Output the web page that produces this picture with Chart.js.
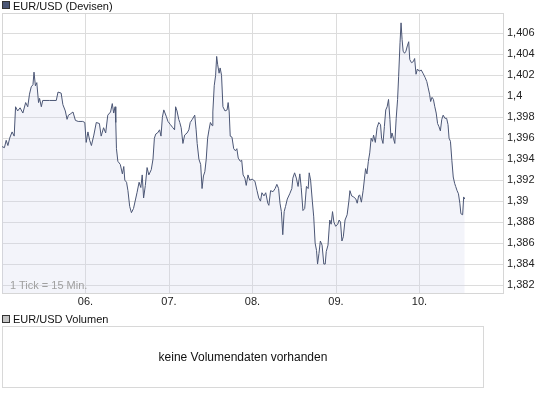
<!DOCTYPE html>
<html>
<head>
<meta charset="utf-8">
<script src="https://cdn.jsdelivr.net/npm/chart.js@4"></script>
<style>
  body { margin: 0; background: #fff; font-family: "Liberation Sans", Arial, sans-serif; }
  #wrap { position: relative; width: 545px; height: 395px; }
  #kurs { position: absolute; left: 0; top: 0; }
  .leg { position: absolute; left: 13px; font-size: 11px; color: #111; line-height: 12px; }
  .sq { position: absolute; left: 2px; width: 6px; height: 6px; border: 1px solid #333; }
  #tick { position: absolute; left: 10px; top: 279px; font-size: 11px; color: #a0a0a0; }
  #volbox { position: absolute; left: 2px; top: 326px; width: 480px; height: 60px; border: 1px solid #d8d8d8;
            font-size: 12px; color: #111; text-align: center; line-height: 60px; }
</style>
</head>
<body>
<div id="wrap">
  <canvas id="kurs" width="545" height="315"></canvas>
  <div class="sq" style="top:1px;background:#4b5675;"></div>
  <div class="leg" style="top:0px;">EUR/USD (Devisen)</div>
  <div id="tick">1 Tick = 15 Min.</div>
  <div class="sq" style="top:315px;background:#c4c4c4;"></div>
  <div class="leg" style="top:313px;">EUR/USD Volumen</div>
  <div id="volbox">keine Volumendaten vorhanden</div>
</div>
<script>
// hours since 05. 00:00
var stunden = [
  0, 0.7, 1.2, 1.7, 2.2, 2.9, 3.5, 3.9, 4.5, 5.2, 6.0, 6.8, 7.4, 7.9, 8.4, 8.9, 9.2, 9.6, 10.0, 10.5,
  10.8, 11.3, 11.7, 13.7, 15.6, 16.1, 17.0, 17.5, 18.2, 18.7, 19.1, 19.6, 20.4, 21.1, 21.9, 23.2, 23.8, 24.2, 24.7, 25.2,
  25.7, 26.4, 27.1, 28.0, 28.5, 29.2, 29.8, 30.4, 31.2, 31.7, 32.1, 32.5, 32.7, 32.9, 33.3, 34.0, 34.6, 35.0, 35.3, 35.8,
  36.2, 36.7, 37.2, 37.8, 38.4, 38.8, 39.4, 39.9, 40.3, 40.7, 41.2, 41.7, 42.2, 42.9, 43.4, 43.8, 44.2, 44.7, 45.3, 45.7,
  46.1, 46.5, 47.2, 47.7, 48.4, 49.1, 49.6, 49.9, 50.3, 50.8,
  51.1, 51.5, 52.0, 52.5, 53.2, 53.7, 54.1, 54.7, 55.4, 55.8, 56.1, 56.6, 57.1, 57.5, 57.9, 58.3, 58.7, 59.1, 59.5, 59.9,
  60.4, 60.6, 61.0, 61.4, 61.7, 62.0, 62.4, 62.7, 63.1, 63.5, 64.1, 64.7, 65.0, 65.3, 65.6, 66.1, 66.6, 67.1, 67.5, 67.9,
  68.5, 68.9, 69.3, 69.8, 70.2, 70.7, 71.2, 71.9, 72.7, 73.3, 73.8, 74.3, 74.7, 75.3, 75.8, 76.4, 76.7, 77.2, 77.9, 78.5,
  79.0, 79.5, 79.9, 80.3, 80.7, 81.1, 81.5, 82.0, 82.7, 83.3, 83.6, 84.1, 84.6, 85.1, 85.6, 86.0, 86.5, 87.0, 87.5, 88.0,
  88.3, 88.7, 89.2, 89.6, 90.0, 90.4, 90.7, 91.1, 91.5, 92.0, 92.5, 92.9, 93.2, 93.7, 94.2, 94.6, 95.0, 95.4, 95.9, 96.5,
  96.9, 97.3, 97.7, 98.1, 98.6, 99.2, 99.7, 100.0, 100.5, 101.1, 101.7, 102.1, 102.5,
  102.8, 103.3, 103.8, 104.2, 104.5, 104.9, 105.3, 105.7, 106.1, 106.5, 106.8, 107.3, 107.8, 108.3, 108.8, 109.1, 109.5, 109.9,
  110.3, 110.7, 111.1, 111.5, 111.8, 112.1, 112.5, 112.9, 113.3, 113.7, 114.0, 114.4, 114.7, 115.0, 115.3, 115.7, 116.1, 116.5,
  116.9, 117.2, 117.7, 118.2, 118.6, 119.0, 119.4, 119.9, 120.5, 121.0, 121.6, 122.1, 122.5, 122.9, 123.2, 123.6, 124.0, 124.4,
  124.8, 125.2, 125.6, 126.0, 126.4, 126.8, 127.3, 127.8, 128.2, 128.5, 128.9, 129.3, 129.7, 130.1, 130.4, 130.8, 131.2, 131.6,
  131.9, 132.4, 132.7, 133.0
];
var kurse = [
  1.3952, 1.3951, 1.3958, 1.3953, 1.3960, 1.3966, 1.3962, 1.3990, 1.3986, 1.3989, 1.3984, 1.3994, 1.3990, 1.4002, 1.4009, 1.4011, 1.4023, 1.4010, 1.4013, 1.3994,
  1.3998, 1.3990, 1.3996, 1.3996, 1.3996, 1.4004, 1.4003, 1.3992, 1.3986, 1.3978, 1.3982, 1.3983, 1.3985, 1.3977, 1.3976, 1.3976, 1.3975, 1.3956, 1.3966, 1.3958,
  1.3953, 1.3963, 1.3975, 1.3974, 1.3962, 1.3970, 1.3965, 1.3982, 1.3985, 1.3993, 1.3984, 1.3990, 1.3975, 1.3950, 1.3938, 1.3935, 1.3926, 1.3933, 1.3920, 1.3918,
  1.3910, 1.3895, 1.3889, 1.3893, 1.3902, 1.3908, 1.3918, 1.3913, 1.3925, 1.3903, 1.3915, 1.3932, 1.3925, 1.3930, 1.3940, 1.3960, 1.3964, 1.3965, 1.3968, 1.3962,
  1.3980, 1.3987, 1.3981, 1.3976, 1.3973, 1.3970, 1.3968, 1.3990, 1.3986, 1.3978,
  1.3975, 1.3970, 1.3955, 1.3963, 1.3965, 1.3968, 1.3975, 1.3978, 1.3982, 1.3968, 1.3955, 1.3940, 1.3935, 1.3912, 1.3924, 1.3928, 1.3940, 1.3960, 1.3968, 1.3975,
  1.3972, 1.3985, 1.4010, 1.4020, 1.4038, 1.4030, 1.4022, 1.4027, 1.4020, 1.3990, 1.3986, 1.3987, 1.3994, 1.3985, 1.3962, 1.3961, 1.3950, 1.3948, 1.3950, 1.3941,
  1.3938, 1.3939, 1.3925, 1.3922, 1.3915, 1.3925, 1.3920, 1.3921, 1.3919, 1.3910, 1.3903, 1.3900, 1.3908, 1.3905, 1.3908, 1.3898, 1.3896, 1.3910, 1.3909, 1.3912,
  1.3916, 1.3912, 1.3898, 1.3890, 1.3868, 1.3890, 1.3895, 1.3902, 1.3907, 1.3912, 1.3922, 1.3927, 1.3922, 1.3914, 1.3926, 1.3913, 1.3891, 1.3893, 1.3914, 1.3912,
  1.3927, 1.3920, 1.3900, 1.3885, 1.3860, 1.3853, 1.3840, 1.3850, 1.3862, 1.3858, 1.3840, 1.3840, 1.3852, 1.3858, 1.3882, 1.3878, 1.3890, 1.3880, 1.3876, 1.3878,
  1.3882, 1.3880, 1.3862, 1.3866, 1.3882, 1.3887, 1.3900, 1.3910, 1.3905, 1.3904, 1.3902, 1.3898, 1.3905,
  1.3906, 1.3899, 1.3910, 1.3922, 1.3931, 1.3926, 1.3938, 1.3946, 1.3960, 1.3957, 1.3963, 1.3956, 1.3970, 1.3975, 1.3973, 1.3960, 1.3955, 1.3971,
  1.3987, 1.3990, 1.3997, 1.3978, 1.3960, 1.3965, 1.3960, 1.3955, 1.3979, 1.3997, 1.4019, 1.4051, 1.4070, 1.4054, 1.4043, 1.4041, 1.4043, 1.4048,
  1.4052, 1.4035, 1.4032, 1.4033, 1.4036, 1.4021, 1.4026, 1.4024, 1.4025, 1.4022, 1.4018, 1.4014, 1.4008, 1.4002, 1.3995, 1.3999, 1.3997, 1.3990,
  1.3984, 1.3974, 1.3971, 1.3967, 1.3978, 1.3982, 1.3979, 1.3979, 1.3973, 1.3960, 1.3957, 1.3939, 1.3923, 1.3917, 1.3914, 1.3910, 1.3907, 1.3898,
  1.3888, 1.3887, 1.3904, 1.3902
];
var tagStunden = [24, 48, 72, 96, 120];
var tagLabels = ['06.', '07.', '08.', '09.', '10.'];
var yTicks = [1.382, 1.384, 1.386, 1.388, 1.39, 1.392, 1.394, 1.396, 1.398, 1.4, 1.402, 1.404, 1.406];

var punkte = stunden.map((h, i) => ({ x: h, y: kurse[i] }));

// frame round the plot area
const rahmen = {
  id: 'rahmen',
  beforeDatasetsDraw(chart) {
    const a = chart.chartArea;
    const ctx = chart.ctx;
    ctx.save();
    ctx.strokeStyle = '#d6d6d6';
    ctx.lineWidth = 1;
    ctx.strokeRect(Math.round(a.left) + 0.5, Math.round(a.top) + 0.5,
      Math.round(a.right - a.left), Math.round(a.bottom - a.top));
    ctx.restore();
  }
};

const canvas = document.getElementById('kurs');

let kursChart = new Chart(canvas, {
  type: 'line',
  data: {
    datasets: [{
      label: 'EUR/USD (Devisen)',
      data: punkte,
      borderColor: '#4b5675',
      borderWidth: 1,
      backgroundColor: 'rgba(207,211,235,0.25)',
      fill: 'start',
      pointRadius: 0,
      tension: 0
    }]
  },
  options: {
    responsive: false,
    animation: false,
    layout: { padding: { left: 2, top: 13, right: 0, bottom: 0 } },
    plugins: { legend: { display: false }, tooltip: { enabled: false } },
    scales: {
      x: {
        type: 'linear',
        min: 0,
        max: 144,
        afterFit: s => { s.height = 22; },
        afterBuildTicks: s => { s.ticks = tagStunden.map(v => ({ value: v })); },
        grid: { color: '#dcdcdc', drawTicks: false },
        border: { display: false },
        ticks: {
          padding: 2,
          color: '#222',
          font: { family: '"Liberation Sans", Arial, sans-serif', size: 11 },
          callback: v => tagLabels[tagStunden.indexOf(v)]
        }
      },
      y: {
        position: 'right',
        min: 1.38124,
        max: 1.40794,
        afterFit: s => { s.width = 42; },
        afterBuildTicks: s => { s.ticks = yTicks.map(v => ({ value: v })); },
        grid: { color: '#dcdcdc', drawTicks: false },
        border: { display: false },
        ticks: {
          padding: 4,
          color: '#222',
          font: { family: '"Liberation Sans", Arial, sans-serif', size: 11 },
          callback: v => String(Number(v.toFixed(3))).replace('.', ',')
        }
      }
    }
  },
  plugins: [rahmen]
});
</script>
</body>
</html>
